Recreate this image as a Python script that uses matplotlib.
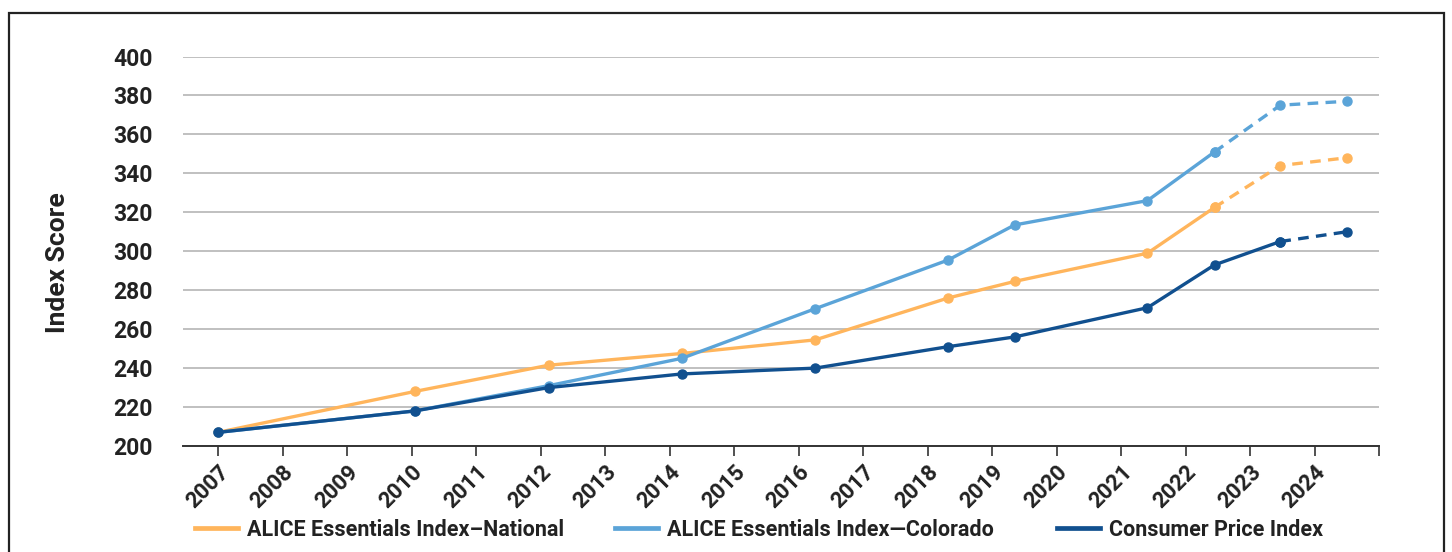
import matplotlib.pyplot as plt
from matplotlib.lines import Line2D
from matplotlib.patches import Rectangle

plt.rcParams['font.family'] = ['Roboto', 'DejaVu Sans']

# x positions of the data points (as placed on the year axis)
years = [2007.0, 2010.05, 2012.13, 2014.19, 2016.26, 2018.32, 2019.35, 2021.41, 2022.45, 2023.47, 2024.5]
national = [207, 228, 241.5, 247.5, 254.5, 276, 284.5, 299, 322.5, 344, 348]
colorado = [207, 218, 231, 245, 270.5, 295.5, 313.5, 326, 351, 375, 377]
cpi = [207, 218, 230, 237, 240, 251, 256, 271, 293, 305, 310]

tick_years = list(range(2007, 2026))
tick_labels = [str(y) for y in range(2007, 2025)] + ['']
y_ticks = list(range(200, 401, 20))

# name, values, colour, number of solid points before the dashed part
series = [
    ("ALICE Essentials Index\u2013National", national, '#FFB55C', 9),
    ("ALICE Essentials Index\u2014Colorado", colorado, '#5BA4D8', 9),
    ("Consumer Price Index", cpi, '#11508F', 10),
]

W, H = 1452, 552
fig = plt.figure(figsize=(W / 100, H / 100), dpi=100)
ax = fig.add_axes([183 / W, 1 - 446 / H, (1379 - 183) / W, (446 - 56.5) / H])

# outer frame
fig.patches.append(Rectangle((9 / W, -0.05), (1444 - 9) / W, 1.05 - 13 / H,
                             transform=fig.transFigure, fill=False,
                             edgecolor='#222222', linewidth=1.6))

for name, vals, col, n_solid in series:
    ax.plot(years[:n_solid], vals[:n_solid], color=col, lw=2.4,
            marker='o', ms=6.5, zorder=3, solid_capstyle='round')
    ax.plot(years[n_solid - 1:], vals[n_solid - 1:], color=col, lw=2.4,
            ls=(0, (3.2, 2.2)), marker='o', ms=6.5, zorder=3)

ax.set_xlim(2007 - 35 / 64.5, 2025)
ax.set_ylim(200, 400)
ax.set_yticks(y_ticks)
ax.set_xticks(tick_years)
ax.set_xticklabels(tick_labels, rotation=45, ha='right', rotation_mode='anchor',
                   fontsize=16, fontweight='bold', color='#222222')
ax.tick_params(axis='x', length=7, width=1.2, color='#333333', pad=4)
ax.tick_params(axis='y', length=0, pad=22, labelsize=16.5, labelcolor='#222222')
for lab in ax.get_yticklabels():
    lab.set_fontweight('bold')

ax.grid(axis='y', color='#C0C0C0', lw=1.4)
ax.set_axisbelow(True)
for s in ['top', 'right', 'left']:
    ax.spines[s].set_visible(False)
ax.spines['bottom'].set_color('#333333')
ax.spines['bottom'].set_linewidth(1.4)

fig.text(58 / W, 1 - 263 / H, 'Index Score', rotation=90, ha='center', va='center',
         fontsize=19, fontweight='bold', color='#222222')

# legend entries placed individually to match the uneven spacing
leg_x = [195, 615, 1057]
for (name, vals, col, n_solid), lx in zip(series, leg_x):
    h = Line2D([], [], color=col, lw=3.4)
    fig.legend([h], [name], loc='center left', bbox_to_anchor=(lx / W, 1 - 530 / H),
               frameon=False, handlelength=2.0, handletextpad=0.4, borderpad=0,
               borderaxespad=0, prop={'weight': 'bold', 'size': 15.5}, labelcolor='#222222')

fig.savefig('out.png', dpi=100)
